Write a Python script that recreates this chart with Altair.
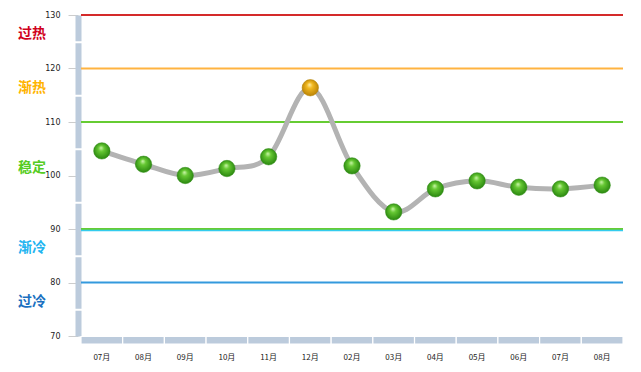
import altair as alt
import pandas as pd

months = ["07月", "08月", "09月", "10月", "11月", "12月", "02月", "03月", "04月", "05月", "06月", "07月 ", "08月 "]
month_labels = ["07月", "08月", "09月", "10月", "11月", "12月", "02月", "03月", "04月", "05月", "06月", "07月", "08月"]
values = [104.6, 102.1, 100.0, 101.3, 103.5, 116.4, 101.8, 93.2, 97.5, 99.0, 97.8, 97.5, 98.2]

level_values = [130, 120, 110, 90, 80]
level_colors = ["#d42a2a", "#ffb340", "#66cc33", "#66cc33", "#3399dd"]

zone_names = ["过热", "渐热", "稳定", "渐冷", "过冷"]
zone_pos = [126.4, 116.4, 101.4, 86.4, 76.4]
zone_colors = ["#d0021b", "#ffb400", "#55cc22", "#22b4f0", "#1a70c0"]

df = pd.DataFrame({"month": months, "label": month_labels, "value": values})
levels = pd.DataFrame({"y": level_values, "c": level_colors})
zones = pd.DataFrame({"name": zone_names, "y": zone_pos, "c": zone_colors})

W, H = 542, 321
label_expr = "replace(datum.label, ' ', '')"

yscale = alt.Scale(domain=[70, 130], nice=False, zero=False)
xscale = alt.Scale(domain=months, paddingInner=0, paddingOuter=0)

base = alt.Chart(df)

xbar = base.mark_rect(color="#bccbdc", stroke="white", strokeWidth=1.2, clip=False).encode(
    x=alt.X("month:N", scale=xscale, sort=None,
            axis=alt.Axis(title=None, labelExpr=label_expr, domain=False, ticks=False,
                          labelPadding=17, labelFontSize=8, labelColor="#222", labelAngle=0,
                          labelFont="Noto Sans CJK SC")),
    y=alt.value(H + 0.5), y2=alt.value(H + 8),
)

line = base.mark_line(interpolate="cardinal", color="#b3b3b3", strokeWidth=5, strokeCap="round").encode(
    x=alt.X("month:N", scale=xscale, sort=None),
    y=alt.Y("value:Q", scale=yscale,
            axis=alt.Axis(title=None, values=[70, 80, 90, 100, 110, 120, 130], grid=False,
                          domainColor="#bccbdc", domainWidth=6, domainDash=[51.5, 2],
                          domainDashOffset=25.75, offset=3, tickColor="#cccccc", tickSize=10,
                          labelPadding=8, labelFontSize=8, labelColor="#222", labelFont="DejaVu Sans")),
)

rules = alt.Chart(levels).mark_rule(strokeWidth=2).encode(
    y=alt.Y("y:Q", scale=yscale), color=alt.Color("c:N", scale=None)
)
cyan = alt.Chart(pd.DataFrame({"y": [90]})).mark_rule(strokeWidth=1.5, color="#33ccee", yOffset=1.5).encode(
    y=alt.Y("y:Q", scale=yscale)
)

green_grad = alt.RadialGradient(
    gradient="radial", x1=0.45, y1=0.3, x2=0.5, y2=0.5, r1=0, r2=0.6,
    stops=[alt.GradientStop(offset=0, color="#d0f7b0"), alt.GradientStop(offset=0.3, color="#66c833"),
           alt.GradientStop(offset=1, color="#1e7a08")])
gold_grad = alt.RadialGradient(
    gradient="radial", x1=0.45, y1=0.3, x2=0.5, y2=0.5, r1=0, r2=0.6,
    stops=[alt.GradientStop(offset=0, color="#fff2b0"), alt.GradientStop(offset=0.3, color="#f2ba22"),
           alt.GradientStop(offset=1, color="#b07800")])

pts_g = base.transform_filter("datum.value <= 110").mark_point(
    shape="circle", filled=True, size=270, fill=green_grad, opacity=1, stroke="#2a8a10", strokeWidth=0.5
).encode(x=alt.X("month:N", scale=xscale, sort=None), y=alt.Y("value:Q", scale=yscale))
pts_o = base.transform_filter("datum.value > 110").mark_point(
    shape="circle", filled=True, size=270, fill=gold_grad, opacity=1, stroke="#b08000", strokeWidth=0.5
).encode(x=alt.X("month:N", scale=xscale, sort=None), y=alt.Y("value:Q", scale=yscale))

zone_text = alt.Chart(zones).mark_text(
    font="Noto Sans CJK SC", fontSize=14, fontWeight="bold", align="center", baseline="middle", clip=False
).encode(x=alt.value(-49), y=alt.Y("y:Q", scale=yscale), text="name:N", color=alt.Color("c:N", scale=None))

chart = alt.layer(xbar, rules, cyan, line, pts_g, pts_o, zone_text).properties(
    width=W, height=H,
    autosize=alt.AutoSizeParams(type="none"),
    padding={"left": 81, "top": 15, "right": 18, "bottom": 36},
    background="white",
).configure_view(stroke=None)

chart.save("out.html", embed_options={"renderer": "svg", "actions": False})
